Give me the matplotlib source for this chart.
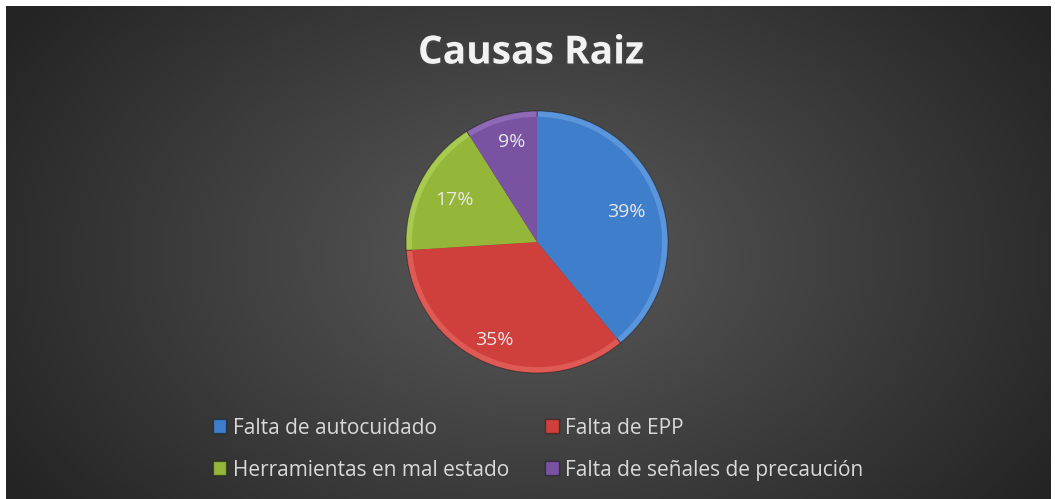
import numpy as np
import matplotlib
matplotlib.use("Agg")
import matplotlib.pyplot as plt
from matplotlib.patches import Patch
import matplotlib.patheffects as pe

title = "Causas Raiz"
categories = ["Falta de autocuidado", "Falta de EPP",
              "Herramientas en mal estado", "Falta de señales de precaución"]
values = [39, 35, 17, 9]
colors = ["#3F7ECB", "#CF403C", "#94B73A", "#7953A2"]
rim_colors = ["#5B95DC", "#E05A55", "#A9CA50", "#8E6AB6"]

W, H = 1055, 499
fig = plt.figure(figsize=(W / 100, H / 100), dpi=100, facecolor="white")

# dark radial background
bg = fig.add_axes([6 / W, 0, (1051 - 6) / W, (H - 6) / H])
bg.set_axis_off()
yy, xx = np.mgrid[0:493, 0:1045]
d = np.sqrt(((xx - 525) / 620.0) ** 2 + ((yy - 250) / 420.0) ** 2)
shade = np.clip(0x5a - (0x5a - 0x24) * d, 0x24, 0x5a) / 255.0
bg.imshow(np.dstack([shade] * 3), aspect="auto", interpolation="bilinear")

fig.text(0.503, 1 - 53 / H, title, ha="center", va="center", color="#F2F2F2",
         fontsize=28, fontweight="bold", family="Open Sans",
         path_effects=[pe.withSimplePatchShadow(offset=(1.5, -1.5), alpha=0.5)])

cx, cy, r = 537, 242, 131
ax = fig.add_axes([(cx - r) / W, (H - cy - r) / H, 2 * r / W, 2 * r / H])
ax.set_axis_off()
# rim (bevel) first, then main face on top
ax.pie(values, colors=rim_colors, startangle=90, counterclock=False, radius=1,
       wedgeprops=dict(edgecolor="#00000055", linewidth=0.8))
ax.pie(values, colors=colors, startangle=90, counterclock=False, radius=0.955,
       wedgeprops=dict(edgecolor="none", linewidth=0))

label_pos = [(626, 212), (494, 340), (454, 200), (512, 142)]
for v, (px, py) in zip(values, label_pos):
    fig.text(px / W, 1 - py / H, f"{v}%", ha="center", va="center",
             color="#E8E8E8", fontsize=14, family="Open Sans")
ax.set_xlim(-1, 1)
ax.set_ylim(-1, 1)

order = [0, 2, 1, 3]
handles = [Patch(facecolor=colors[i], edgecolor="#00000060", label=categories[i]) for i in order]
leg = fig.legend(handles=handles, ncol=2, loc="upper left",
                 bbox_to_anchor=(194 / W, 1 - 399 / H), frameon=False,
                 handlelength=0.65, handleheight=0.65, handletextpad=0.3,
                 columnspacing=1.75, labelspacing=1.0,
                 prop=dict(family="Open Sans", size=15))
for t in leg.get_texts():
    t.set_color("#D9D9D9")

fig.savefig("out.png", dpi=100, facecolor="white")
